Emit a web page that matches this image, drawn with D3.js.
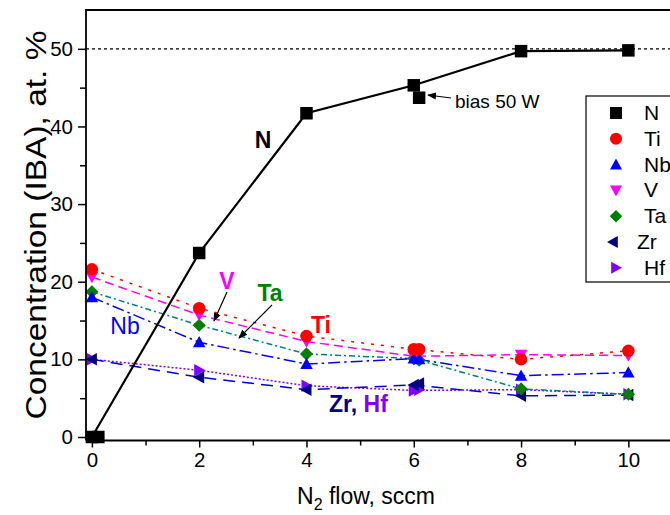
<!DOCTYPE html>
<html>
<head>
<meta charset="utf-8">
<script src="https://cdn.jsdelivr.net/npm/d3@7"></script>
<style>
  html, body { margin: 0; padding: 0; background: #fff; }
  svg { display: block; font-family: "Liberation Sans", Arial, sans-serif; }
</style>
</head>
<body>
<svg id="chart" width="670" height="515"></svg>
<script>
// N2 flow settings (sccm)
const flow = [0, 2, 4, 6, 8, 10];
// Composition from IBA, at.% (one array per element)
const nVals  = [0, 23.7, 41.7, 45.3, 49.7, 49.8];
const tiVals = [21.6, 16.6, 13.0, 11.3, 10.0, 11.1];
const nbVals = [18.0, 12.2, 9.4, 10.1, 7.9, 8.3];
const vVals  = [20.6, 15.7, 12.3, 10.4, 10.6, 10.5];
const taVals = [18.7, 14.4, 10.7, 10.1, 6.2, 5.5];
const zrVals = [10.0, 7.7, 6.1, 6.7, 5.3, 5.4];
const hfVals = [10.0, 8.6, 6.6, 6.0, 6.1, 5.5];
// Extra samples: repeat at zero flow and the 50 W substrate-bias run at 6 sccm
const nExtraX = [0.12, 6.1];
const nExtra  = [0, 43.7];
const biasX = 6.1;
const tiBias = 11.3, nbBias = 10.0, vBias = 10.6, taBias = 9.9, zrBias = 6.9, hfBias = 6.1;
// Axis ticks
const xTicks = [0, 2, 4, 6, 8, 10];
const yTicks = [0, 10, 20, 30, 40, 50];
const stoichN = 50;

const svg = d3.select("#chart");
const x = d3.scaleLinear().domain([-0.11, 11]).range([86, 682]);
const y = d3.scaleLinear().domain([-0.45, 55]).range([440.5, 10]);

const series = [
  { name: "N",  vals: nVals,  color: "#000000", shape: "square",   dash: null,          width: 2.2, bias: null },
  { name: "Ti", vals: tiVals, color: "#ff0000", shape: "circle",   dash: "3,7",         width: 1.5, bias: tiBias },
  { name: "Nb", vals: nbVals, color: "#0000ff", shape: "triUp",    dash: "12,4,2.5,4",  width: 1.5, bias: nbBias },
  { name: "V",  vals: vVals,  color: "#ff00ff", shape: "triDown",  dash: "9,5",         width: 1.5, bias: vBias },
  { name: "Ta", vals: taVals, color: "#008000", shape: "diamond",  dash: "6,3,2,3",     width: 1.5, bias: taBias, lineColor: "#008080" },
  { name: "Zr", vals: zrVals, color: "#000080", shape: "triLeft",  dash: "12,7",        width: 1.5, bias: zrBias, lineColor: "#0000cc" },
  { name: "Hf", vals: hfVals, color: "#8000ff", shape: "triRight", dash: "2,2",         width: 1.5, bias: hfBias }
];

function markerPath(shape, s) {
  const h = s / 2;
  switch (shape) {
    case "square":   return `M${-h},${-h}H${h}V${h}H${-h}Z`;
    case "circle":   return d3.symbol(d3.symbolCircle, Math.PI * h * h)();
    case "triUp":    return `M0,${-h}L${h},${h * 0.8}L${-h},${h * 0.8}Z`;
    case "triDown":  return `M0,${h}L${h},${-h * 0.8}L${-h},${-h * 0.8}Z`;
    case "triLeft":  return `M${-h},0L${h * 0.8},${-h}L${h * 0.8},${h}Z`;
    case "triRight": return `M${h},0L${-h * 0.8},${-h}L${-h * 0.8},${h}Z`;
    case "diamond":  return `M0,${-h * 1.05}L${h * 1.05},0L0,${h * 1.05}L${-h * 1.05},0Z`;
  }
}

// Stoichiometric nitrogen level
svg.append("line")
  .attr("x1", x(-0.11)).attr("x2", 670)
  .attr("y1", y(stoichN)).attr("y2", y(stoichN))
  .attr("stroke", "#000").attr("stroke-width", 1.2).attr("stroke-dasharray", "3,3");

// Connecting lines, drawn back to front
const line = d3.line().x(d => x(d[0])).y(d => y(d[1]));
series.slice().reverse().forEach(s => {
  svg.append("path")
    .datum(flow.map((f, i) => [f, s.vals[i]]))
    .attr("d", line)
    .attr("fill", "none")
    .attr("stroke", s.lineColor || s.color)
    .attr("stroke-width", s.width)
    .attr("stroke-dasharray", s.dash);
});

// Markers
const msize = 12.5;
series.slice().reverse().forEach(s => {
  const pts = flow.map((f, i) => [f, s.vals[i]]);
  if (s.bias !== null) pts.push([biasX, s.bias]);
  if (s.name === "N") nExtraX.forEach((xx, i) => pts.push([xx, nExtra[i]]));
  svg.append("g").selectAll("path").data(pts).join("path")
    .attr("transform", d => `translate(${x(d[0])},${y(d[1])})`)
    .attr("d", markerPath(s.shape, msize))
    .attr("fill", s.color);
});

// Axes
const xAxis = d3.axisBottom(x).tickValues(xTicks).tickSize(7).tickPadding(5).tickFormat(d3.format("d"));
const xMinor = d3.axisBottom(x).tickValues([1, 3, 5, 7, 9, 11]).tickSize(5).tickFormat("");
const yAxis = d3.axisLeft(y).tickValues(yTicks).tickSize(8).tickPadding(5).tickFormat(d3.format("d"));
const yMinor = d3.axisLeft(y).tickValues([5, 15, 25, 35, 45]).tickSize(6).tickFormat("");

function styleAxis(g) {
  g.select(".domain").remove();
  g.selectAll("line").attr("stroke", "#000").attr("stroke-width", 1.5);
  g.selectAll("text").attr("font-size", 20.5).attr("fill", "#000")
    .attr("font-family", "Liberation Sans, Arial, sans-serif");
}
svg.append("g").attr("transform", `translate(0,${y.range()[0]})`).call(xAxis).call(styleAxis);
svg.append("g").attr("transform", `translate(0,${y.range()[0]})`).call(xMinor).call(styleAxis);
svg.append("g").attr("transform", `translate(${x.range()[0]},0)`).call(yAxis).call(styleAxis);
svg.append("g").attr("transform", `translate(${x.range()[0]},0)`).call(yMinor).call(styleAxis);

// Frame
svg.append("path")
  .attr("d", `M${x.range()[0]},${y.range()[0]}V${y.range()[1]}H670M${x.range()[0]},${y.range()[0]}H670`)
  .attr("fill", "none").attr("stroke", "#000").attr("stroke-width", 1.8);

// Axis titles
svg.append("text")
  .attr("transform", "translate(46,225) rotate(-90) scale(1,0.9)")
  .attr("text-anchor", "middle").attr("font-size", 33.5).text("Concentration (IBA), at. %");
const xt = svg.append("text").attr("x", 366).attr("y", 504)
  .attr("text-anchor", "middle").attr("font-size", 23);
xt.append("tspan").text("N");
xt.append("tspan").attr("font-size", 16).attr("dy", 6).text("2");
xt.append("tspan").attr("dy", -6).text(" flow, sccm");

// Series labels on the plot
const labels = [
  { t: "N",  x: 263, y: 148, c: "#000000", bold: true },
  { t: "V",  x: 227, y: 289, c: "#ff00ff", bold: true },
  { t: "Ta", x: 270, y: 301, c: "#008000", bold: true },
  { t: "Ti", x: 321, y: 333, c: "#ff0000", bold: true },
  { t: "Nb", x: 125, y: 334, c: "#0000ff", bold: false }
];
labels.forEach(l => {
  svg.append("text").attr("x", l.x).attr("y", l.y).attr("text-anchor", "middle")
    .attr("font-size", 23).attr("font-weight", l.bold ? "bold" : "normal")
    .attr("fill", l.c).text(l.t);
});
const zh = svg.append("text").attr("x", 329).attr("y", 412)
  .attr("font-size", 23).attr("font-weight", "bold");
zh.append("tspan").attr("fill", "#000080").text("Zr, ");
zh.append("tspan").attr("fill", "#8000ff").text("Hf");

// Arrows
svg.append("defs").append("marker")
  .attr("id", "ah").attr("viewBox", "0 0 10 10").attr("refX", 9).attr("refY", 5)
  .attr("markerWidth", 9).attr("markerHeight", 9).attr("orient", "auto-start-reverse")
  .attr("markerUnits", "userSpaceOnUse")
  .append("path").attr("d", "M0,1L10,5L0,9Z").attr("fill", "#000");
const arrows = [
  [227, 292, 214, 321],
  [272, 305, 239, 338],
  [451, 98, 428, 95]
];
arrows.forEach(a => {
  svg.append("line").attr("x1", a[0]).attr("y1", a[1]).attr("x2", a[2]).attr("y2", a[3])
    .attr("stroke", "#000").attr("stroke-width", 1.2).attr("marker-end", "url(#ah)");
});
svg.append("text").attr("x", 455).attr("y", 108).attr("font-size", 19).text("bias 50 W");

// Legend
const lg = svg.append("g");
lg.append("rect").attr("x", 586).attr("y", 96).attr("width", 100).attr("height", 186)
  .attr("fill", "#fff").attr("stroke", "#000").attr("stroke-width", 1.2);
series.forEach((s, i) => {
  const cy = 113 + i * 25.8;
  const mx = s.name === "Zr" ? 613 : 616;
  lg.append("path").attr("transform", `translate(${mx},${cy})`)
    .attr("d", markerPath(s.shape, 12)).attr("fill", s.color);
  lg.append("text").attr("x", s.name === "Zr" ? 637 : 644).attr("y", cy + 7)
    .attr("font-size", 21).text(s.name);
});
</script>
</body>
</html>
